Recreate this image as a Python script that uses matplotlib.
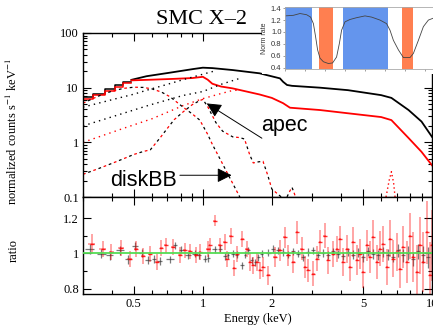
import numpy as np
import matplotlib
matplotlib.use("Agg")
import matplotlib.pyplot as plt
from matplotlib.ticker import FixedLocator, FuncFormatter, NullFormatter, LogLocator

# ---- spectrum (normalized counts s^-1 keV^-1) ----
blk_edges = [0.30, 0.331, 0.373, 0.413, 0.449, 0.488]
blk_steps = [6.7, 7.7, 9.6, 11.3, 12.9]
red_steps = [6.2, 7.2, 8.6, 10.3, 12.3]

blk_e = [0.488, 0.568, 0.718, 0.907, 1.0, 1.1, 1.35, 1.77, 2.17, 2.24, 2.33, 2.45,
         3.24, 4.3, 6.0, 6.65, 7.9, 9.0, 10.0]
blk_v = [13.9, 16.2, 18.8, 21.9, 23.2, 22.8, 21.0, 18.3, 14.8, 12.8, 11.2, 10.8,
         10.0, 9.0, 7.3, 6.5, 3.9, 2.4, 1.26]
red_e = [0.488, 0.6, 0.75, 0.9, 1.0, 1.05, 1.1, 1.2, 1.35, 1.77, 2.0, 2.24, 2.4,
         3.24, 4.3, 6.0, 6.65, 7.9, 9.0, 10.0]
red_v = [13.6, 14.0, 14.5, 15.0, 15.8, 14.0, 11.8, 10.5, 9.7, 7.5, 6.5, 5.2, 4.3,
         3.9, 3.4, 2.9, 2.55, 1.2, 0.67, 0.38]

# model components
disk_e = [0.30, 0.35, 0.40, 0.45, 0.50, 0.55, 0.60, 0.66, 0.72, 0.82, 0.90, 0.97,
          1.05, 1.10, 1.20, 1.30, 1.45]
disk_v = [5.2, 7.0, 8.6, 9.7, 10.2, 10.1, 9.5, 8.3, 6.8, 4.4, 3.3, 2.55,
          1.4, 0.92, 0.46, 0.24, 0.1]
apec_e = [0.30, 0.35, 0.40, 0.45, 0.50, 0.55, 0.59, 0.65, 0.70, 0.75, 0.82, 0.90,
          0.97, 1.00, 1.05, 1.14, 1.22, 1.35, 1.45, 1.52, 1.60, 1.66, 1.75, 1.83,
          1.92, 2.00, 2.20, 2.30, 2.40, 2.45, 2.50, 2.56]
apec_v = [0.26, 0.33, 0.41, 0.50, 0.60, 0.68, 0.73, 1.2, 1.8, 2.6, 3.6, 4.9,
          5.8, 6.1, 4.5, 2.3, 1.6, 1.26, 1.22, 1.15, 0.6, 0.42, 0.44, 0.45,
          0.25, 0.14, 0.1, 0.09, 0.13, 0.15, 0.12, 0.09]
pl_blk_e = [0.30, 0.40, 0.50, 0.57, 0.70, 0.82, 0.97, 1.14]
pl_blk_v = [4.4, 6.0, 7.6, 9.0, 11.5, 14.0, 17.0, 20.5]
bb_blk_e = [0.30, 0.45, 0.585, 0.82, 1.0, 1.2, 1.45]
bb_blk_v = [2.0, 3.4, 4.8, 7.2, 8.5, 11.5, 14.8]
pl_red_e = [0.30, 0.45, 0.60, 0.82, 1.0, 1.2, 1.35, 1.45]
pl_red_v = [1.0, 1.8, 2.7, 4.7, 6.3, 7.8, 8.9, 9.0]
fe_e = [6.3, 6.5, 6.65, 6.8, 6.9]
fe_v = [0.1, 0.2, 0.29, 0.18, 0.1]

# ---- ratio panel ----
rb_e = [0.321, 0.361, 0.393, 0.434, 0.472, 0.505, 0.540, 0.577, 0.611, 0.649,
        0.718, 0.755, 0.807, 0.863, 0.923, 0.963, 1.02, 1.055, 1.128, 1.186,
        1.248, 1.290, 1.357, 1.403, 1.476, 1.525, 1.578, 1.631, 1.687, 1.745,
        1.804, 1.929, 2.028, 2.133, 2.243, 2.359, 2.480, 2.608, 2.743, 2.884,
        3.032, 3.189, 3.354, 3.526, 3.708, 3.899, 4.101, 4.312, 4.535, 4.768,
        5.014, 5.272, 5.545, 5.831, 6.131, 6.447, 6.780, 7.129, 7.497, 7.884,
        8.290, 8.718, 9.167, 9.638, 9.97]
rb_v = [1.026, 0.998, 0.989, 1.017, 0.966, 1.041, 1.004, 0.961, 0.970, 0.955,
        0.966, 1.045, 1.021, 0.989, 0.998, 0.989, 0.970, 0.974, 1.023, 1.026,
        0.983, 0.989, 0.998, 0.993, 0.932, 0.993, 1.017, 0.961, 0.951, 0.979,
        0.998, 1.004, 1.026, 1.017, 1.008, 0.993, 1.011, 0.998, 0.979, 1.008,
        1.017, 0.993, 1.004, 0.989, 1.011, 0.998, 0.985, 1.008, 0.993, 1.004,
        0.979, 1.011, 0.996, 0.989, 1.008, 0.993, 0.979, 1.017, 0.989, 1.004,
        0.970, 1.011, 0.993, 0.979, 1.008]
rb_err = [0.030, 0.025, 0.025, 0.025, 0.025, 0.022, 0.022, 0.022, 0.022, 0.022,
          0.022, 0.022, 0.020, 0.020, 0.020, 0.020, 0.020, 0.020, 0.020, 0.020,
          0.020, 0.020, 0.020, 0.020, 0.020, 0.020, 0.020, 0.020, 0.020, 0.020,
          0.020, 0.020, 0.020, 0.020, 0.020, 0.020, 0.020, 0.020, 0.020, 0.020,
          0.020, 0.020, 0.022, 0.022, 0.022, 0.022, 0.022, 0.022, 0.025, 0.025,
          0.025, 0.025, 0.028, 0.028, 0.030, 0.030, 0.030, 0.035, 0.035, 0.040,
          0.040, 0.045, 0.050, 0.060, 0.070]

rr_e = [0.327, 0.365, 0.399, 0.441, 0.480, 0.513, 0.549, 0.587, 0.628, 0.660,
        0.689, 0.742, 0.794, 0.834, 0.877, 0.938, 0.970, 1.055, 1.073, 1.128,
        1.186, 1.248, 1.269, 1.321, 1.366, 1.413, 1.485, 1.551, 1.604, 1.659,
        1.716, 1.774,
        1.834, 1.929, 2.063, 2.169, 2.281, 2.359, 2.480, 2.565, 2.697, 2.789,
        2.884, 3.032, 3.136, 3.243, 3.410, 3.526, 3.708, 3.834, 3.966, 4.101,
        4.241, 4.385, 4.535, 4.689, 4.849, 5.014, 5.185, 5.362, 5.545, 5.734,
        5.929, 6.131, 6.340, 6.556, 6.780, 7.011, 7.250, 7.497, 7.752, 8.017,
        8.290, 8.570, 8.866, 9.167, 9.478, 9.800, 9.97]
rr_v = [1.054, 1.026, 1.008, 1.030, 0.966, 1.026, 0.985, 0.998, 0.951, 1.030,
        1.045, 1.036, 0.989, 1.017, 1.011, 0.993, 1.008, 1.026, 1.045, 1.186,
        1.045, 1.064, 0.966, 1.101, 0.917, 0.998, 1.083, 1.026, 0.951, 0.932,
        0.951, 0.904,
        0.923, 0.876, 0.979, 1.017, 1.092, 0.989, 0.951, 1.120, 1.026, 0.923,
        0.904, 0.885, 0.970, 1.064, 1.101, 0.961, 0.998, 1.026, 1.083, 0.951,
        1.026, 0.923, 1.064, 0.961, 0.998, 0.895, 1.045, 0.979, 1.092, 0.951,
        1.026, 1.054, 0.923, 1.083, 0.970, 1.008, 0.914, 1.036, 0.951, 1.101,
        0.979, 0.895, 1.045, 0.951, 1.120, 0.876, 1.045]
rr_err = [0.055, 0.045, 0.045, 0.045, 0.045, 0.045, 0.045, 0.045, 0.045, 0.045,
          0.045, 0.045, 0.045, 0.045, 0.045, 0.045, 0.045, 0.045, 0.045, 0.030,
          0.045, 0.045, 0.045, 0.045, 0.045, 0.045, 0.045, 0.045, 0.050, 0.050,
          0.050, 0.050,
          0.055, 0.055, 0.055, 0.060, 0.060, 0.060, 0.060, 0.065, 0.065, 0.065,
          0.065, 0.070, 0.070, 0.070, 0.070, 0.075, 0.075, 0.075, 0.075, 0.080,
          0.080, 0.080, 0.085, 0.085, 0.085, 0.090, 0.090, 0.090, 0.095, 0.095,
          0.100, 0.100, 0.100, 0.105, 0.105, 0.110, 0.110, 0.120, 0.120, 0.130,
          0.140, 0.150, 0.160, 0.170, 0.180, 0.190, 0.200]

# ---- inset light curve ----
lc_t = [0, 4.2, 7.5, 10.8, 12.8, 14.2, 15.3, 16.3, 17.5, 19.2, 21.7, 23.8, 25.8,
        27.2, 28.3, 30, 32.5, 35.8, 40, 43.3, 47.5, 50.8, 52.5, 54.2, 56.7, 59.2,
        62.5, 64.2, 66.7, 69.2, 71.7, 74]
lc_rate = [1.27, 1.28, 1.31, 1.29, 1.25, 1.14, 0.92, 0.70, 0.56, 0.50, 0.47, 0.48,
           0.58, 0.81, 1.03, 1.17, 1.21, 1.24, 1.27, 1.25, 1.20, 1.14, 1.03, 0.86,
           0.70, 0.57, 0.57, 0.64, 0.86, 1.09, 1.20, 1.23]
blue_spans = [(0, 13.3), (29.2, 51.7)]
orange_spans = [(17.2, 23.8), (58.3, 64.2)]


def half_widths(e, frac=1.0):
    e = np.asarray(e)
    d = np.diff(np.log10(e))
    d = np.concatenate([[d[0]], d]) * frac
    lo = e - e / 10 ** (d / 2)
    hi = e * 10 ** (d / 2) - e
    return lo, hi


plt.rcParams["font.family"] = ["Liberation Serif", "DejaVu Serif"]
plt.rcParams["mathtext.fontset"] = "stix"
plt.rcParams["font.size"] = 9

fig = plt.figure(figsize=(4.33, 3.29), dpi=100)
ax = fig.add_axes([0.1917, 0.4012, 0.806, 0.4985])
axr = fig.add_axes([0.1917, 0.1064, 0.806, 0.2948], sharex=ax)

# spectrum
ax.plot(blk_edges, blk_steps + blk_steps[-1:], color="black", lw=1.1,
        drawstyle="steps-post")
ax.plot(blk_edges, red_steps + red_steps[-1:], color="red", lw=1.1,
        drawstyle="steps-post")
ax.plot(blk_e, blk_v, color="black", lw=1.3)
ax.plot(red_e, red_v, color="red", lw=1.3)

dot = (0, (1, 3))
ax.plot(pl_blk_e, pl_blk_v, color="black", lw=1, ls=dot)
ax.plot(bb_blk_e, bb_blk_v, color="black", lw=1, ls=dot)
ax.plot(pl_red_e, pl_red_v, color="red", lw=1, ls=dot)
dash_r = (0, (2.2, 6.6))
dash_k = (4.4, (2.2, 6.6))
ax.plot(disk_e, disk_v, color="red", lw=0.9, ls=dash_r)
ax.plot(disk_e, disk_v, color="black", lw=0.9, ls=dash_k)
ax.plot(apec_e, apec_v, color="red", lw=0.9, ls=dash_r)
ax.plot(apec_e, apec_v, color="black", lw=0.9, ls=dash_k)
ax.plot(fe_e, fe_v, color="red", lw=1, ls=(0, (1, 2)))

ax.set_xscale("log")
ax.set_yscale("log")
ax.set_xlim(0.3, 10)
ax.set_ylim(0.1, 100)
ax.yaxis.set_major_formatter(FuncFormatter(lambda v, p: f"{v:g}"))
ax.yaxis.set_minor_formatter(NullFormatter())
ax.set_ylabel("normalized counts s$^{-1}$ keV$^{-1}$")
ax.yaxis.set_label_coords(-0.18, 0.40)
plt.setp(ax.get_xticklabels(), visible=False)

# annotations
ax.annotate("", xy=(1.04, 5.15), xytext=(1.81, 1.19),
            arrowprops=dict(arrowstyle="-|>", mutation_scale=22, color="black",
                            lw=0.7, shrinkA=0, shrinkB=0))
ax.text(1.79, 2.07, "apec", family=["Liberation Sans"], fontsize=15.5,
        ha="left", va="center")
ax.annotate("", xy=(1.335, 0.25), xytext=(0.794, 0.25),
            arrowprops=dict(arrowstyle="-|>", mutation_scale=22, color="black",
                            lw=0.7, shrinkA=0, shrinkB=0))
ax.text(0.393, 0.2, "diskBB", family=["Liberation Sans"], fontsize=15.5,
        ha="left", va="center")

# ratio
lo, hi = half_widths(rb_e, 0.8)
axr.errorbar(rb_e, rb_v, yerr=rb_err, xerr=[lo, hi], fmt="none",
             ecolor=(0.2, 0.2, 0.2, 0.65), elinewidth=0.9)
lo, hi = half_widths(rr_e, 0.6)
axr.errorbar(rr_e, rr_v, yerr=rr_err, xerr=[lo, hi], fmt="none",
             ecolor=(1, 0, 0, 0.45), elinewidth=1.1)
axr.plot(rr_e, rr_v, ls="none", marker="_", ms=3, mew=1, color="red", alpha=0.8)
axr.axhline(1.0, color="#55dd55", lw=1.3, zorder=5)
axr.set_ylim(0.77, 1.32)
axr.yaxis.set_major_locator(FixedLocator([0.8, 1.0, 1.2]))
axr.yaxis.set_minor_locator(FixedLocator([0.9, 1.1]))
axr.yaxis.set_major_formatter(FuncFormatter(lambda v, p: f"{v:g}"))
axr.xaxis.set_major_locator(FixedLocator([0.5, 1, 2, 5, 10]))
axr.xaxis.set_major_formatter(FuncFormatter(lambda v, p: f"{v:g}"))
axr.xaxis.set_minor_locator(LogLocator(base=10, subs=np.arange(2, 10) * 1.0, numticks=20))
axr.xaxis.set_minor_formatter(NullFormatter())
axr.set_xlabel("Energy (keV)", labelpad=2)
axr.set_ylabel("ratio")
axr.yaxis.set_label_coords(-0.18, 0.45)

for a in (ax, axr):
    a.tick_params(which="both", direction="in", top=True, right=True, width=0.8)
    a.tick_params(which="major", length=6, pad=3)
    a.tick_params(which="minor", length=3)
    for s in a.spines.values():
        s.set_linewidth(1.0)
ax.xaxis.set_major_locator(FixedLocator([0.5, 1, 2, 5, 10]))

# white patch behind inset
cover = fig.add_axes([0.605, 0.775, 0.40, 0.23])
cover.set_facecolor("white")
cover.set_xticks([])
cover.set_yticks([])
for s in cover.spines.values():
    s.set_visible(False)

# inset light curve
ins = fig.add_axes([0.6582, 0.7888, 0.3487, 0.19])
for a0, a1 in blue_spans:
    ins.axvspan(a0, a1, color="#6495ed", lw=0)
for a0, a1 in orange_spans:
    ins.axvspan(a0, a1, color="#ff7f50", lw=0)
ins.plot(lc_t, lc_rate, color="#444444", lw=0.6)
ins.set_xlim(0, 75.5)
ins.set_ylim(0.37, 1.42)
ins.set_yticks([0.4, 0.6, 0.8, 1.0, 1.2, 1.4])
ins.yaxis.set_major_formatter(FuncFormatter(lambda v, p: f"{v:.1f}"))
ins.set_xticks(np.arange(0, 76, 10))
ins.set_xticklabels([])
ins.tick_params(labelsize=5.5, length=1.5, width=0.4, pad=1, colors="#555555",
                labelcolor="#333333")
for lab in ins.get_yticklabels():
    lab.set_family(["Liberation Sans"])
ins.set_ylabel("Norm rate", fontsize=5, family=["Liberation Sans"], labelpad=2,
               color="#333333")
for s in ins.spines.values():
    s.set_color("#aaaaaa")
    s.set_linewidth(0.6)

fig.text(201 / 433, 1 - 20 / 329, "SMC X\u20132", ha="center", va="center",
         fontsize=16)

fig.savefig("out.png", dpi=100)
